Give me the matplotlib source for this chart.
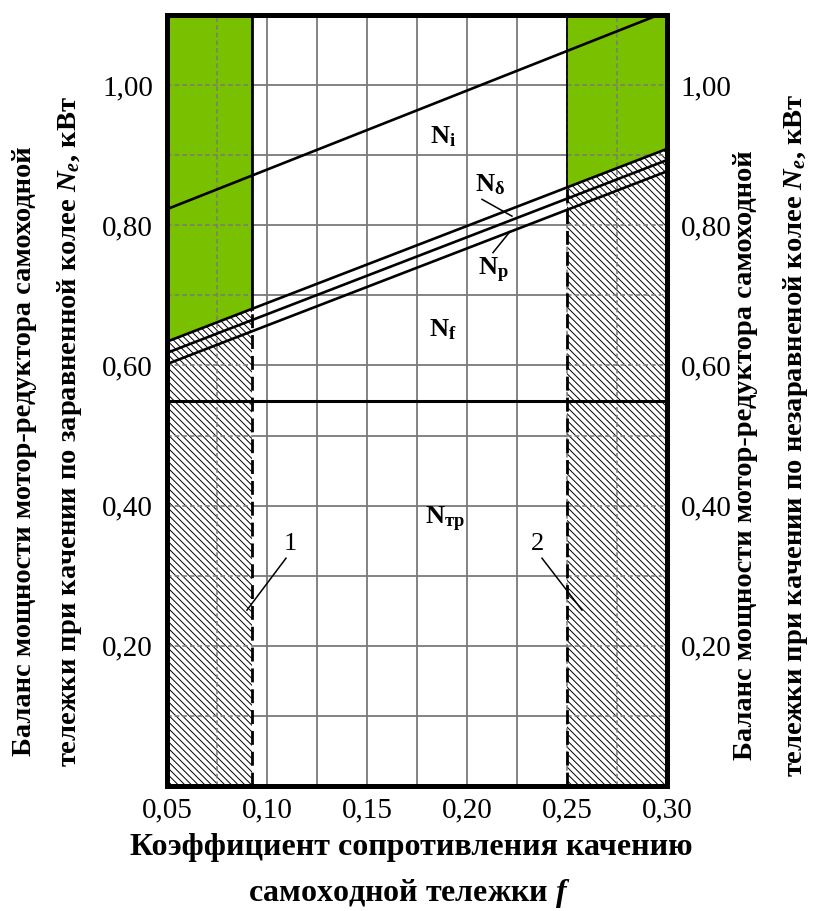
import matplotlib
matplotlib.use("Agg")
import matplotlib.pyplot as plt
import numpy as np

plt.rcParams['font.family'] = ['Liberation Serif', 'DejaVu Serif']
plt.rcParams['mathtext.fontset'] = 'custom'
plt.rcParams['mathtext.rm'] = 'Liberation Serif'
plt.rcParams['mathtext.bf'] = 'Liberation Serif:bold'
plt.rcParams['mathtext.it'] = 'Liberation Serif:bold:italic'
plt.rcParams['hatch.linewidth'] = 0.7

# power balance lines, end points at f = 0.05 and f = 0.30
f_ends = [0.05, 0.30]
N_i = [0.823, 1.105]
N_delta = [0.634, 0.909]
N_p = [0.618, 0.893]
N_f = [0.602, 0.877]
N_tr = 0.55

# limits of working ranges (1 - levelled track, 2 - unlevelled track)
f_lim1 = 0.0925
f_lim2 = 0.25

x_ticks = [0.05, 0.10, 0.15, 0.20, 0.25, 0.30]
x_labels = ['0,05', '0,10', '0,15', '0,20', '0,25', '0,30']
y_ticks = [0.20, 0.40, 0.60, 0.80, 1.00]
y_labels = ['0,20', '0,40', '0,60', '0,80', '1,00']
x_grid = np.arange(0.075, 0.30, 0.025)
y_grid = np.arange(0.1, 1.05, 0.1)

green = '#79c000'
gridc = '#7a7a7a'


def line_at(vals, f):
    return np.interp(f, f_ends, vals)


fig = plt.figure(figsize=(8.18, 9.11), dpi=100)
ax = fig.add_axes([167/818, 125/911, 500/818, 771/911])
ax.set_xlim(0.05, 0.30)
ax.set_ylim(0.0, 1.10)

# grid: solid in the middle, dashed inside shaded zones
for x in x_grid:
    if f_lim1 < x < f_lim2:
        ax.plot([x, x], [0, 1.10], color=gridc, lw=1.3, zorder=1)
    else:
        ax.plot([x, x], [0, 1.10], color=gridc, lw=1.1, ls=(0, (3, 2)), zorder=4)
for y in y_grid:
    ax.plot([f_lim1, f_lim2], [y, y], color=gridc, lw=1.3, zorder=1)
    ax.plot([0.05, f_lim1], [y, y], color=gridc, lw=1.1, ls=(0, (3, 2)), zorder=4)
    ax.plot([f_lim2, 0.30], [y, y], color=gridc, lw=1.1, ls=(0, (3, 2)), zorder=4)

# shaded zones: green above the loss band, hatched below it
for a, b in [(0.05, f_lim1), (f_lim2, 0.30)]:
    fx = np.array([a, b])
    yb = line_at(N_delta, fx)
    ax.fill_between(fx, yb, 1.10, color=green, lw=0, zorder=2)
    ax.fill_between(fx, 0, yb, facecolor='white', edgecolor='black',
                    hatch='\\\\\\\\\\', lw=0, zorder=2)

# power lines
ax.plot(f_ends, N_i, color='black', lw=1.9, zorder=5)
ax.plot(f_ends, N_delta, color='black', lw=1.9, zorder=5)
ax.plot(f_ends, N_p, color='black', lw=1.9, zorder=5)
ax.plot(f_ends, N_f, color='black', lw=1.9, zorder=5)
ax.plot([0.05, 0.30], [N_tr, N_tr], color='black', lw=2.2, zorder=5)

# range boundaries
for fl in (f_lim1, f_lim2):
    yb = line_at(N_delta, fl)
    ax.plot([fl, fl], [0, yb], color='black', lw=2.0, ls=(0, (5, 2.5)), zorder=5)
    ax.plot([fl, fl], [yb, 1.10], color='black', lw=2.0 if fl == f_lim1 else 1.3, zorder=5)

# region labels
lab = dict(fontsize=19, ha='center', va='center', zorder=6)
ax.text(0.188, 0.927, r'$\mathbf{N_{i}}$', **lab)
ax.text(0.2115, 0.858, r'$\mathbf{N_{δ}}$', **lab)
ax.text(0.213, 0.735, r'$\mathbf{N_{p}}$', **lab)
ax.text(0.188, 0.651, r'$\mathbf{N_{f}}$', **lab)
ax.text(0.189, 0.380, r'$\mathbf{N_{тр}}$', **lab)
ax.plot([0.2075, 0.2225], [0.837, 0.813], color='black', lw=1.1, zorder=6)
ax.plot([0.2215, 0.213], [0.791, 0.761], color='black', lw=1.1, zorder=6)

ax.text(0.1115, 0.345, '1', fontsize=19, ha='center', va='center', zorder=6)
ax.plot([0.1095, 0.090], [0.325, 0.251], color='black', lw=1.1, zorder=6)
ax.text(0.2355, 0.345, '2', fontsize=19, ha='center', va='center', zorder=6)
ax.plot([0.2375, 0.2575], [0.325, 0.251], color='black', lw=1.1, zorder=6)

for s in ax.spines.values():
    s.set_linewidth(3.6)
    s.set_zorder(7)

ax.set_xticks(x_ticks)
ax.set_xticklabels(x_labels)
ax.set_yticks(y_ticks)
ax.set_yticklabels(y_labels)
ax.tick_params(length=0, labelsize=21, right=True, labelright=True)
ax.tick_params(axis='x', pad=8)
ax.tick_params(axis='y', pad=10)

# axis titles
yl = dict(fontsize=20.5, fontweight='bold', rotation=90, ha='center', va='center')
fig.text(25/818, 1 - 451/911, 'Баланс мощности мотор-редуктора самоходной', **yl)
fig.text(70/818, 1 - 432/911, r'тележки при качении по заравненной колее $\mathit{N_e}$, кВт', **yl)
fig.text(745/818, 1 - 455/911, 'Баланс мощности мотор-редуктора самоходной', **yl)
fig.text(795/818, 1 - 435/911, r'тележки при качении по незаравненой колее $\mathit{N_e}$, кВт', **yl)

xl = dict(fontsize=23, fontweight='bold', ha='center', va='center')
fig.text(411/818, 1 - 848/911, 'Коэффициент сопротивления качению', **xl)
fig.text(409/818, 1 - 893/911, r'самоходной тележки $\mathit{f}$', **xl)

fig.savefig('out.png', dpi=100, facecolor='white')
